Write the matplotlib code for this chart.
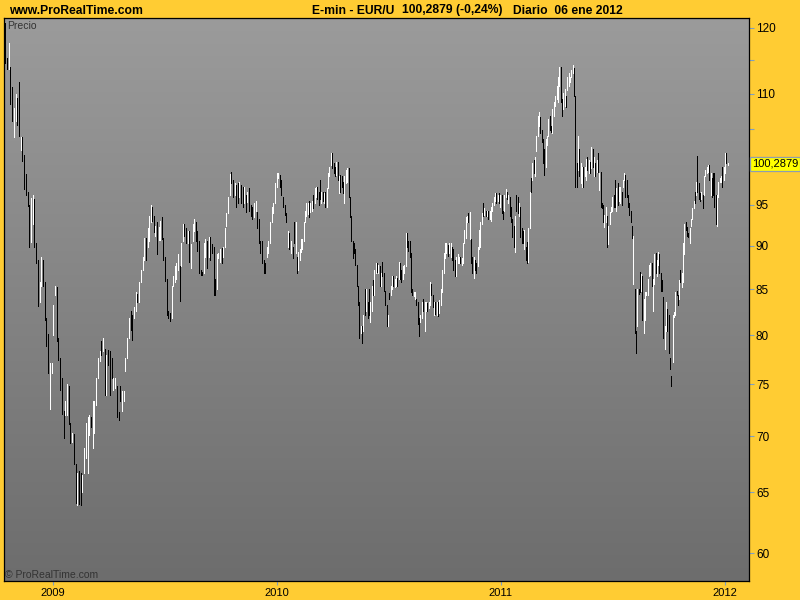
import numpy as np
import pandas as pd
import matplotlib
matplotlib.use("Agg")
import matplotlib.pyplot as plt
import matplotlib.dates as mdates
from matplotlib.colors import LinearSegmentedColormap
from matplotlib.ticker import FixedLocator, FixedFormatter, NullLocator
from matplotlib import transforms

# ---- data: (high, low, up) per bar, grouped by period ----
seg_a = [(120.8,114.6,0),(115.4,113.6,0),(117.7,113.6,1),(114.0,108.6,0),(111.0,106.1,0),(107.9,103.9,1),(110.0,106.1,1),(109.4,105.6,0),(111.7,104.0,0),(103.9,102.1,1),
(103.9,100.7,0),(101.5,97.0,0),(99.0,96.3,0),(96.6,94.9,0),(95.0,89.9,0),(95.9,90.5,1),(96.2,92.7,1),(95.7,89.9,0),(90.3,88.0,0),(88.4,83.1,0),
(85.8,83.6,1),(88.7,85.4,1),(88.4,85.4,0),(85.8,81.6,0),(81.8,78.9,0),(80.1,76.1,0),(77.1,72.6,1),(77.1,76.1,1),(83.3,80.0,1),(85.4,84.3,1),
(85.3,79.4,0),(79.7,77.4,0),(77.6,74.4,0),(75.6,72.1,0),(72.4,69.8,0),(73.3,72.0,1),(75.0,72.0,1),(74.8,71.1,0),(71.2,69.4,0),(70.3,69.5,1),
(70.2,67.5,0),(67.5,64.1,0),(66.7,63.9,1),(66.9,64.0,0),(66.7,63.9,0),(66.5,65.0,1),(68.9,66.7,1),(71.2,68.0,1),(71.8,66.7,1),(72.0,70.1,1),
(71.8,70.9,0),(73.3,68.9,1),(73.3,70.3,1),(75.6,73.0,1),(77.6,75.6,1),(78.3,77.3,1),(79.4,77.9,0),(79.7,78.3,1),(78.6,73.9,0),(77.9,73.9,1),
(78.4,76.9,0),(78.3,73.9,0),(77.6,75.6,0),(75.6,74.4,1),(75.6,74.6,1),(74.8,71.8,0),(72.3,71.5,0),(74.8,73.3,0),(74.3,72.4,1),(74.3,73.3,1),
(77.6,76.3,1),(79.7,77.6,1),(81.8,79.7,1),(82.6,80.5,0),(82.2,79.5,0),(83.0,81.8,1),(84.7,82.6,1),(84.5,83.6,0),(85.8,83.6,1),(87.2,85.8,1),
(88.7,87.2,1),(90.9,88.4,1),(90.9,88.4,0),(92.1,89.9,1)]

seg_b1 = [(93.6,90.6,1),(95.0,92.9,1),(94.8,93.0,0),(93.6,91.7,0),(92.4,91.2,1),(92.9,89.0,0),(92.3,90.7,1),(93.0,90.7,1),(93.5,90.8,0),(91.0,88.4,0),
(88.7,85.9,0),(86.1,82.2,0),(82.6,81.8,0),(82.4,81.5,0),(85.4,81.8,1),(86.5,85.4,1),(87.6,85.8,1),(88.0,86.1,1),(89.0,87.2,1),(87.6,83.7,0),
(90.3,87.6,1),(92.7,90.6,1),(92.7,91.2,0),(92.2,90.3,0),(91.8,90.3,1),(91.8,88.1,0),(90.2,87.4,1),(92.7,90.6,1),(93.3,91.8,1),(92.9,90.6,0),
(91.8,89.4,0),(90.6,86.8,0),(87.2,86.6,0),(86.9,86.6,0),(90.3,86.8,1),(90.8,88.7,1),(90.6,87.4,0),(91.1,88.7,1),(91.1,88.4,0),(90.2,89.2,0),
(89.9,84.3,0),(86.1,84.3,0),(89.0,85.0,1),(89.2,88.6,1),(89.6,88.1,1),(89.8,88.0,0),(89.9,88.7,1),(92.2,89.9,1),(94.0,92.4,1),(96.0,94.0,1),
(99.0,96.3,1),(99.2,97.8,0),(98.2,96.0,0),(97.8,96.3,1),(97.5,94.7,0),(97.8,95.2,0),(97.9,96.0,1),(97.5,95.2,0),(97.3,94.7,0),(97.3,95.2,1),
(96.3,94.1,0),(96.7,95.4,1),(97.1,94.3,0),(95.0,93.6,0),(94.7,93.2,0),(95.3,93.5,1),(95.5,94.3,1),(94.1,92.2,0),(93.2,90.3,0),(90.6,89.2,0),
(90.6,88.0,0),(88.4,86.8,0),(88.0,86.8,0),(89.9,88.7,1),(90.6,89.2,1),(92.9,90.3,1),(94.7,92.9,1),(95.2,94.0,1),(97.8,95.2,1),(99.1,97.3,1),
(99.1,98.5,1),(98.8,97.3,0),(98.2,96.3,0),(96.0,94.7,0),(95.0,93.8,0),(94.0,92.9,0),(91.8,89.9,1),(91.5,89.6,0),(90.6,89.2,1),(89.9,88.6,0),
(92.9,90.3,0)]

seg_b2 = [(92.9,89.2,1),(88.7,86.8,0),(89.3,87.2,1),(89.6,88.4,1),(90.8,89.3,1),(90.8,89.6,1),(92.9,90.6,1),(94.3,92.9,1),(95.3,93.6,1),(95.2,93.9,1),
(95.5,93.5,0),(95.2,94.1,1),(95.5,94.2,1),(96.3,94.6,0),(97.1,95.3,1),(97.3,96.0,1),(97.3,95.8,0),(96.7,95.0,0),(98.2,95.8,0),(96.7,95.3,1),
(96.7,95.5,0),(96.5,95.2,1),(96.7,94.7,0),(97.1,94.7,1),(99.1,97.1,1),(99.9,98.7,1),(101.7,100.2,1),(101.7,99.7,0),(100.4,99.1,0),(99.9,98.7,0),
(100.5,98.8,1),(100.5,98.2,0),(98.7,96.5,1),(98.8,96.7,0),(98.7,97.3,0),(97.9,96.5,0),(98.7,95.2,1),(99.5,97.8,1),(99.7,97.9,1),(99.7,96.0,0),
(96.0,93.5,0),(93.6,90.6,0),(90.6,88.6,0),(90.3,89.2,0),(89.6,87.8,0),(87.8,85.4,0),(85.4,83.2,0),(83.6,79.7,0),(81.0,80.2,1),(81.0,79.2,0),
(82.2,80.4,1),(85.0,82.2,0),(85.0,82.6,1),(83.6,81.8,0),(85.0,82.2,0),(83.6,81.4,1),(85.4,82.6,1),(86.0,84.3,0),(87.2,84.3,1),(88.0,86.8,1),
(88.0,86.9,0),(87.8,86.8,1),(87.6,85.4,0),(86.8,85.4,1),(88.1,86.5,0),(86.8,84.8,0),(84.8,83.2,0),(83.2,81.0,0),(82.2,81.0,1),(84.6,83.9,0),
(85.4,84.3,1),(86.5,85.0,1),(86.5,85.4,0),(86.1,85.3,1),(86.5,85.4,1),(86.3,85.4,0),(88.1,86.1,1),(88.0,86.1,0),(87.2,85.8,0),(87.6,86.1,1),
(87.8,86.8,1),(91.5,87.6,1),(91.5,89.9,0),(90.6,89.4,0),(90.6,88.7,0),(89.2,84.7,0),(85.0,84.3,0),(84.7,84.2,1),(84.7,83.9,1),(83.9,83.2,0),
(83.6,81.2,0),(81.8,79.9,0),(82.2,81.4,1),(83.6,81.8,1),(83.9,82.6,0),(83.6,80.4,1),(83.6,82.6,1),(83.5,82.6,0),(83.6,82.9,1),(85.8,83.2,1),
(85.6,84.3,0),(84.3,83.0,0),(83.6,82.2,1),(83.6,82.3,0),(83.6,82.2,1),(83.6,82.1,0),(83.8,82.4,1),(85.0,83.2,1),(87.2,84.7,1),(89.2,86.8,1),
(90.3,88.6,1),(90.3,89.2,1),(90.1,88.8,0),(90.3,89.2,1)]

seg_b3 = [(90.3,88.7,1),(89.9,88.4,0),(89.6,87.2,0),(88.4,86.5,0),(88.7,86.5,1),(89.0,88.0,1),(88.7,88.0,1),(88.7,88.0,0),(88.6,87.8,1),(90.3,88.0,1),
(91.9,90.3,1),(93.5,91.0,1),(93.6,92.9,1),(94.0,92.9,0),(94.1,90.8,1),(90.8,88.0,0),(88.7,86.8,0),(88.7,86.3,1),(88.4,87.2,0),(88.0,86.8,0),
(89.9,87.6,1),(91.9,89.6,1),(92.9,89.9,1),(94.0,92.7,1),(95.2,93.6,0),(94.6,93.8,1),(94.3,93.6,0),(94.3,93.6,1),(94.3,93.2,0),(94.3,93.2,1),
(94.7,93.0,1),(95.3,94.3,1),(96.0,95.0,1),(96.5,95.5,1),(96.5,95.2,0),(96.3,95.5,1),(96.5,95.2,0),(96.3,94.7,1),(96.3,94.0,0),(94.3,93.2,0),
(96.3,94.3,1),(97.0,96.0,1),(96.7,95.8,0),(96.3,95.2,1),(96.0,93.6,0),(94.7,92.9,0),(93.2,91.1,0),(92.4,89.9,0),(93.6,89.3,1),(96.3,94.3,0),
(96.0,94.0,0),(95.2,93.6,1),(94.7,91.1,0),(92.2,90.3,0),(91.8,90.3,0),(91.9,89.6,1),(89.9,88.4,0),(90.5,88.0,0),(92.2,88.1,1),(96.7,92.2,1),
(98.5,96.7,0),(100.4,98.2,1),(100.8,99.1,0),(101.2,98.7,1),(104.1,102.0,1),(106.9,104.1,1),(107.4,105.5,1),(106.7,104.5,0),(104.9,103.2,0),(103.7,100.4,0),
(102.3,98.8,0),(103.7,99.9,1),(104.1,102.8,1),(106.4,104.1,1),(106.8,104.9,0),(105.5,104.6,0),(107.8,104.5,1),(108.8,106.9,1),(109.7,108.2,1),(111.1,109.2,1),
(112.5,108.8,1),(114.0,111.1,1),(114.0,108.8,0),(109.2,106.8,0),(110.2,107.8,1),(110.7,108.2,1),(109.7,108.1,0),(112.5,110.6,1),(113.1,111.1,1),(112.5,111.8,1),
(113.5,112.5,1),(114.3,113.1,1),(113.8,109.7,0),(109.7,97.3,0),(100.4,97.3,0),(104.1,99.5,1),(102.3,98.7,0),(100.4,97.8,1),(99.9,97.3,1),(99.9,97.3,0),
(99.9,98.7,1),(101.0,98.2,1),(101.2,99.5,0),(100.8,99.1,1),(100.5,99.1,0),(102.5,99.7,1),(102.3,99.9,0),(101.2,98.7,1),(100.4,98.7,0),(100.8,99.2,1),
(101.7,99.2,0),(99.1,96.9,1)]

seg_b4 = [(99.2,94.7,0),(95.2,94.6,0),(95.0,92.9,0),(93.8,92.3,1),(94.7,92.9,1),(93.6,89.9,0),(92.4,90.2,1),(94.1,92.7,1),(94.7,94.1,1),(96.0,94.3,1),
(96.3,94.7,0),(98.2,94.7,0),(97.1,94.3,1),(97.8,95.0,0),(97.3,95.5,1),(97.3,95.2,1),(96.7,95.0,0),(98.2,97.3,1),(99.1,98.2,1),(98.8,96.0,0),
(98.2,96.0,0),(96.3,94.7,0),(95.3,93.8,0),(94.3,92.9,0),(92.4,91.0,0),(91.2,85.6,1),(85.0,80.2,0),(80.4,78.1,0),(85.0,81.0,1),(85.0,84.5,0),
(87.0,84.7,0),(86.7,84.8,1),(86.5,81.6,0),(83.9,80.2,1),(84.7,81.6,1),(84.7,84.3,1),(86.1,84.3,1),(87.8,86.5,1),(88.0,86.6,1),(88.0,85.4,0),
(86.1,82.6,1),(89.0,85.6,1),(89.2,86.8,0),(88.4,86.5,1),(89.3,87.8,1),(89.0,86.8,0),(86.8,84.8,0),(86.0,84.8,0),(84.1,79.7,0),(81.0,78.6,1),
(83.6,80.4,1),(82.8,80.4,0),(82.2,78.1,0),(77.6,76.5,0),(75.8,74.8,0),(82.2,77.2,1),(82.5,81.9,1),(84.7,82.2,1),(84.8,84.3,0),(84.3,83.3,0),
(86.0,83.9,1),(87.2,85.8,0),(86.8,85.2,1),(90.3,85.8,1),(92.7,89.0,1),(92.9,91.9,0),(92.3,91.2,0),(91.5,91.1,0),(92.2,90.3,1),(93.2,92.4,1),
(94.6,93.2,1),(95.5,94.6,1),(96.7,95.3,0),(97.9,96.3,1),(101.4,96.7,0),(97.8,95.8,0),(96.5,95.5,0),(96.7,95.8,1),(96.3,94.6,0),(98.7,96.3,1),
(99.5,98.7,1),(99.9,99.1,1),(100.2,99.2,1),(100.2,98.2,0),(99.1,96.3,1),(98.5,96.0,0),(99.1,96.3,0),(99.1,94.7,0),(96.3,92.7,0),(96.3,92.4,1),
(97.9,96.0,1),(98.5,97.9,1),(98.7,97.9,1),(99.9,97.3,0),(99.9,98.2,1),(101.7,99.1,1),(101.8,100.4,0),(100.4,100.2,1)]

segments = [seg_a, seg_b1, seg_b2, seg_b3, seg_b4]
seg_dates = [("2008-10-16", "2009-06-05"), ("2009-06-07", "2010-01-30"),
             ("2010-02-01", "2010-10-09"), ("2010-10-12", "2011-06-11"),
             ("2011-06-13", "2012-01-06")]

y_ticks = [60, 65, 70, 75, 80, 85, 90, 95, 100, 105, 110, 115, 120]
y_labels = ["60", "65", "70", "75", "80", "85", "90", "95", "", "", "110", "", "120"]
x_years = ["2009", "2010", "2011", "2012"]
last_price = 100.2879
last_label = "100,2879"

# ---- build series ----
xs, his, los, ups = [], [], [], []
for seg, (d0, d1) in zip(segments, seg_dates):
    d = pd.date_range(d0, d1, periods=len(seg))
    xs.extend(mdates.date2num(d.to_pydatetime()))
    for h, l, u in seg:
        his.append(h); los.append(l); ups.append(u)
xs = np.array(xs); his = np.array(his); los = np.array(los)
cols = ["white" if u else "black" for u in ups]

plt.rcParams["font.family"] = ["Liberation Sans", "DejaVu Sans"]

W, H = 800, 600
fig = plt.figure(figsize=(8, 6), dpi=100, facecolor="#FFCC33")
L, R, T, B = 4, 749, 18, 581
rect = [L / W, (H - B) / H, (R - L) / W, (B - T) / H]

bg = fig.add_axes(rect, zorder=0)
grad = np.linspace(0, 1, 256).reshape(-1, 1)
cmap = LinearSegmentedColormap.from_list("g", ["#9B9B9B", "#6D6D6D"])
bg.imshow(grad, cmap=cmap, aspect="auto", extent=[0, 1, 0, 1], origin="upper")
bg.set_axis_off()

ax = fig.add_axes(rect, zorder=1)
ax.set_facecolor("none")
ax.vlines(xs, los, his, colors=cols, linewidth=0.62, antialiased=False)

ax.set_yscale("log")
ax.set_ylim(57.83, 121.59)
x0 = mdates.date2num(pd.Timestamp("2009-01-01").to_pydatetime())
x3 = mdates.date2num(pd.Timestamp("2012-01-01").to_pydatetime())
ax.set_xlim(x0 - 79.1, x3 + 39.9)

ax.yaxis.set_major_locator(FixedLocator(y_ticks))
ax.yaxis.set_major_formatter(FixedFormatter(y_labels))
ax.yaxis.set_minor_locator(NullLocator())
ax.yaxis.set_minor_formatter(FixedFormatter([]))
ax.yaxis.tick_right()
xt = [mdates.date2num(pd.Timestamp(f"{y}-01-01").to_pydatetime()) for y in x_years]
ax.set_xticks(xt)
ax.set_xticklabels(x_years)
tick_col = "#7F9FC2"
ax.tick_params(axis="y", which="major", direction="out", length=3.5, width=0.8,
               color=tick_col, pad=1.5, labelsize=8.5, labelcolor="black")
ax.tick_params(axis="x", which="major", direction="out", length=3.0, width=0.8,
               color=tick_col, pad=2.0, labelsize=8, labelcolor="black")
for s in ax.spines.values():
    s.set_color("black"); s.set_linewidth(0.9)

# last price box
tr = transforms.blended_transform_factory(ax.transAxes, ax.transData)
ax.text(1.0 + 3.0 / (R - L), last_price, last_label, transform=tr, ha="left", va="center",
        fontsize=8, color="black", clip_on=False, zorder=5,
        bbox=dict(boxstyle="square,pad=0.18", fc="#FFFF00", ec="#8E9CB0", lw=0.9))

# header texts
ty = 1 - 10.5 / H
fig.text(9 / W, ty, "www.ProRealTime.com", ha="left", va="center", fontsize=8.7, fontweight="bold")
fig.text(312 / W, ty, "E-min - EUR/U", ha="left", va="center", fontsize=8.7, fontweight="bold")
fig.text(402 / W, ty, "100,2879 (-0,24%)", ha="left", va="center", fontsize=8.7, fontweight="bold")
fig.text(513 / W, ty, "Diario  06 ene 2012", ha="left", va="center", fontsize=8.7, fontweight="bold")

fig.text(7 / W, 1 - 26 / H, "Precio", ha="left", va="center", fontsize=7.5, color="#333333", zorder=3)
fig.text(5 / W, 1 - 575.5 / H, "\u00a9 ProRealTime.com", ha="left", va="center", fontsize=7.5,
         color="#333333", zorder=3)

fig.savefig("out.png", dpi=100, facecolor=fig.get_facecolor())
